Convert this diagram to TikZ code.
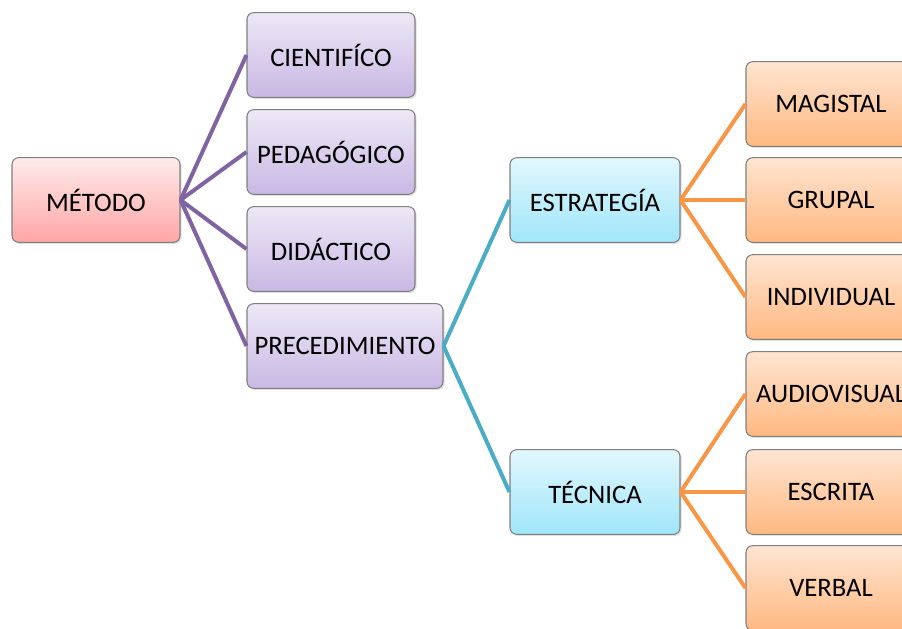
\documentclass[tikz,border=0pt]{standalone}
\usepackage{fontspec}
\setmainfont{Carlito}
\usetikzlibrary{shadows}
\definecolor{lpurple}{HTML}{8064A2}
\definecolor{lteal}{HTML}{4BACC6}
\definecolor{lorange}{HTML}{F79646}
\tikzset{
  box/.style={draw=black!50, line width=0.8pt, rounded corners=5pt, minimum height=63.5pt,
    inner sep=0pt, font=\fontsize{20}{22}\selectfont,
    drop shadow={opacity=0.25, shadow xshift=1.2pt, shadow yshift=-1.2pt}},
  pinkbox/.style={box, top color=red!8, bottom color=red!35!white, minimum width=126pt},
  purplebox/.style={box, top color={rgb,255:red,237;green,232;blue,246}, bottom color={rgb,255:red,201;green,184;blue,228}, minimum width=126pt},
  bluebox/.style={box, top color={rgb,255:red,226;green,247;blue,253}, bottom color={rgb,255:red,160;green,230;blue,250}, minimum width=127.5pt},
  orangebox/.style={box, top color={rgb,255:red,255;green,229;blue,210}, bottom color={rgb,255:red,255;green,184;blue,128}, minimum width=127.5pt},
  plink/.style={draw=lpurple, line width=3pt},
  tlink/.style={draw=lteal, line width=3pt},
  olink/.style={draw=lorange, line width=3pt}
}
\begin{document}
\begin{tikzpicture}[x=0.75pt, y=-0.75pt]
\useasboundingbox (0,0) rectangle (902,628);
\clip (0,0) rectangle (902,628);
\node[pinkbox] (metodo) at (96,200) {MÉTODO};
\node[purplebox] (cien) at (331,55) {CIENTIFÍCO};
\node[purplebox] (peda) at (331,152) {PEDAGÓGICO};
\node[purplebox] (dida) at (331,249) {DIDÁCTICO};
\node[purplebox, minimum width=147pt] (prec) at (345,346) {PRECEDIMIENTO};
\node[bluebox] (estr) at (595,200) {ESTRATEGÍA};
\node[bluebox] (tecn) at (595,492) {TÉCNICA};
\node[orangebox] (magi) at (831,104) {MAGISTAL};
\node[orangebox] (grup) at (831,200) {GRUPAL};
\node[orangebox] (indi) at (831,297) {INDIVIDUAL};
\node[orangebox] (audi) at (831,394) {AUDIOVISUAL};
\node[orangebox] (escr) at (831,492) {ESCRITA};
\node[orangebox] (verb) at (831,588) {VERBAL};
\foreach \t in {cien,peda,dida,prec} \draw[plink] (metodo.east) -- (\t.west);
\foreach \t in {estr,tecn} \draw[tlink] (prec.east) -- (\t.west);
\foreach \t in {magi,grup,indi} \draw[olink] (estr.east) -- (\t.west);
\foreach \t in {audi,escr,verb} \draw[olink] (tecn.east) -- (\t.west);
\end{tikzpicture}
\end{document}
